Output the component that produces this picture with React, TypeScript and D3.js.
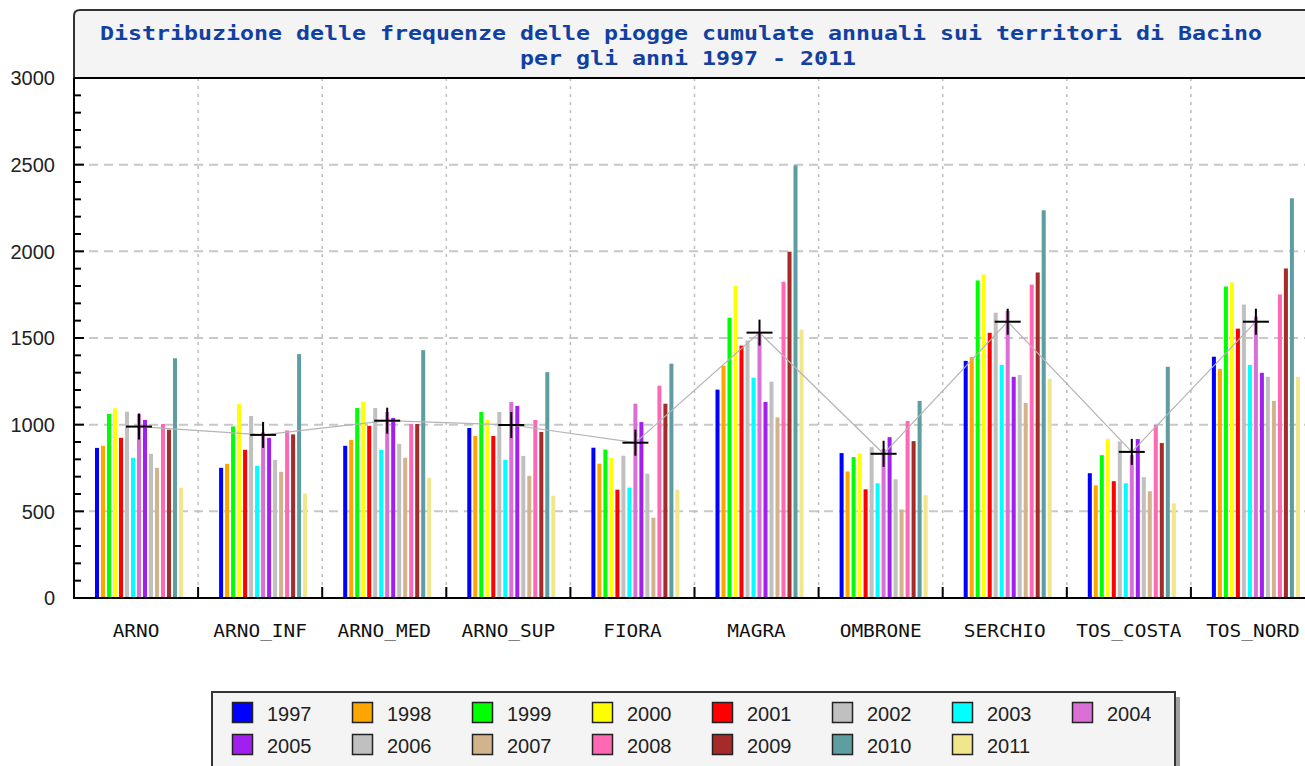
import React, { useRef, useEffect } from 'react';
import * as d3 from 'd3';

const categories = ['ARNO', 'ARNO_INF', 'ARNO_MED', 'ARNO_SUP', 'FIORA', 'MAGRA', 'OMBRONE', 'SERCHIO', 'TOS_COSTA', 'TOS_NORD'];
const years = ['1997', '1998', '1999', '2000', '2001', '2002', '2003', '2004', '2005', '2006', '2007', '2008', '2009', '2010', '2011'];
const yearColors = ['#0000ff', '#ffa500', '#00ff00', '#ffff00', '#ff0000', '#c0c0c0', '#00ffff', '#da70d6', '#a020f0', '#c0c0c0', '#d2b48c', '#ff69b4', '#a52a2a', '#5f9ea0', '#f0e68c'];

// one row per year, one value per category (mm)
const v1997 = [866, 751, 878, 981, 867, 1202, 836, 1368, 720, 1392];
const v1998 = [878, 774, 912, 935, 775, 1340, 730, 1390, 650, 1322];
const v1999 = [1062, 990, 1096, 1073, 856, 1617, 813, 1832, 824, 1797];
const v2000 = [1094, 1119, 1131, 1027, 808, 1802, 834, 1866, 917, 1820];
const v2001 = [924, 855, 993, 935, 625, 1456, 627, 1530, 674, 1554];
const v2002 = [1075, 1050, 1096, 1073, 821, 1486, 870, 1646, 903, 1693];
const v2003 = [809, 763, 855, 797, 637, 1271, 662, 1345, 662, 1345];
const v2004 = [1062, 955, 1073, 1131, 1121, 1525, 860, 1656, 824, 1623];
const v2005 = [1027, 924, 1039, 1108, 1015, 1131, 928, 1276, 917, 1299];
const v2006 = [832, 797, 889, 820, 717, 1248, 685, 1287, 697, 1276];
const v2007 = [751, 728, 809, 705, 463, 1042, 511, 1125, 616, 1137];
const v2008 = [1004, 967, 1004, 1027, 1225, 1825, 1021, 1808, 998, 1751];
const v2009 = [971, 944, 1004, 958, 1121, 1998, 905, 1878, 894, 1901];
const v2010 = [1383, 1407, 1430, 1303, 1352, 2496, 1137, 2237, 1334, 2306];
const v2011 = [636, 602, 694, 590, 625, 1548, 593, 1264, 546, 1276];
const seriesValues = [v1997, v1998, v1999, v2000, v2001, v2002, v2003, v2004, v2005, v2006, v2007, v2008, v2009, v2010, v2011];

// mean markers
const means = [989, 941, 1023, 998, 896, 1531, 832, 1594, 843, 1594];

const yTicks = [0, 500, 1000, 1500, 2000, 2500, 3000];
const titleLines = ['Distribuzione delle frequenze delle piogge cumulate annuali sui territori di Bacino', 'per gli anni 1997 - 2011'];

const App = () => {
  const ref = useRef(null);

  useEffect(() => {
    if (!ref.current) return;
    d3.select(ref.current).select('svg').remove();

    const W = 1305, H = 766;
    const left = 74, top = 78, bottom = 598;
    const bandW = 124.1;

    const svg = d3.select(ref.current)
      .append('svg')
      .attr('width', W)
      .attr('height', H)
      .style('display', 'block');

    const x = d3.scaleBand()
      .domain(categories)
      .range([left, left + bandW * categories.length]);

    const xi = d3.scaleBand()
      .domain(years)
      .range([20, 110])
      .paddingInner(0.33)
      .paddingOuter(0.165);

    const y = d3.scaleLinear().domain([0, 3000]).range([bottom, top]);

    const right = left + bandW * categories.length;

    // title box
    svg.append('path')
      .attr('d', `M${left},${top} L${left},16 Q${left},10 ${left + 6},10 L${right + 10},10 L${right + 10},${top} Z`)
      .attr('fill', '#f4f4f4')
      .attr('stroke', '#333')
      .attr('stroke-width', 2);

    const title = svg.append('g');
    title.append('text')
      .attr('x', 100).attr('y', 40)
      .attr('textLength', 1162)
      .attr('lengthAdjust', 'spacingAndGlyphs')
      .attr('font-family', 'DejaVu Sans Mono')
      .attr('font-weight', 'bold')
      .attr('font-size', 19)
      .attr('fill', '#1240a0')
      .text(titleLines[0]);
    title.append('text')
      .attr('x', 520).attr('y', 65)
      .attr('textLength', 336)
      .attr('lengthAdjust', 'spacingAndGlyphs')
      .attr('font-family', 'DejaVu Sans Mono')
      .attr('font-weight', 'bold')
      .attr('font-size', 19)
      .attr('fill', '#1240a0')
      .text(titleLines[1]);

    // grid
    svg.append('g')
      .selectAll('line')
      .data(yTicks.filter(t => t > 0 && t < 3000))
      .join('line')
      .attr('x1', left).attr('x2', right)
      .attr('y1', d => y(d)).attr('y2', d => y(d))
      .attr('stroke', '#c8c8c8')
      .attr('stroke-width', 2)
      .attr('stroke-dasharray', '9,6');

    svg.append('g')
      .selectAll('line')
      .data(categories.slice(1))
      .join('line')
      .attr('x1', d => x(d)).attr('x2', d => x(d))
      .attr('y1', top).attr('y2', bottom)
      .attr('stroke', '#bdbdbd')
      .attr('stroke-width', 1.5)
      .attr('stroke-dasharray', '3,5');

    // bars
    const groups = svg.append('g')
      .selectAll('g')
      .data(categories)
      .join('g')
      .attr('transform', d => `translate(${x(d)},0)`);

    groups.selectAll('rect')
      .data((d, ci) => years.map((yr, yi) => ({ yr, yi, v: seriesValues[yi][ci] })))
      .join('rect')
      .attr('x', d => xi(d.yr))
      .attr('width', xi.bandwidth())
      .attr('y', d => y(d.v))
      .attr('height', d => y(0) - y(d.v))
      .attr('fill', d => yearColors[d.yi]);

    // mean line + crosses
    const cx = c => x(c) + xi(years[7]) + xi.bandwidth() / 2;
    const line = d3.line()
      .x((d, i) => cx(categories[i]))
      .y(d => y(d));

    svg.append('path')
      .datum(means)
      .attr('fill', 'none')
      .attr('stroke', '#b4b4b4')
      .attr('stroke-width', 1.2)
      .attr('d', line);

    const crosses = svg.append('g')
      .selectAll('g')
      .data(means)
      .join('g')
      .attr('transform', (d, i) => `translate(${cx(categories[i])},${y(d)})`);
    crosses.append('line').attr('x1', -13).attr('x2', 13).attr('stroke', '#000').attr('stroke-width', 2);
    crosses.append('line').attr('y1', -13).attr('y2', 13).attr('stroke', '#000').attr('stroke-width', 2);

    // y axis
    const yAxis = svg.append('g');
    yAxis.append('line')
      .attr('x1', left).attr('x2', left)
      .attr('y1', top).attr('y2', bottom + 1)
      .attr('stroke', '#000').attr('stroke-width', 2);
    yAxis.selectAll('.minor')
      .data(d3.range(0, 3001, 100))
      .join('line')
      .attr('x1', left).attr('x2', d => left + (d % 500 === 0 ? 10 : 7))
      .attr('y1', d => y(d)).attr('y2', d => y(d))
      .attr('stroke', '#000').attr('stroke-width', 2);
    yAxis.selectAll('text')
      .data(yTicks)
      .join('text')
      .attr('x', 55)
      .attr('y', d => y(d))
      .attr('dy', '0.36em')
      .attr('text-anchor', 'end')
      .attr('font-family', 'Liberation Sans')
      .attr('font-size', 20)
      .attr('fill', '#222')
      .text(d => d);

    // title bottom line
    svg.append('line')
      .attr('x1', left).attr('x2', right + 10)
      .attr('y1', top).attr('y2', top)
      .attr('stroke', '#000').attr('stroke-width', 2);

    // x axis
    const xAxis = svg.append('g');
    xAxis.append('line')
      .attr('x1', left - 1).attr('x2', right)
      .attr('y1', bottom).attr('y2', bottom)
      .attr('stroke', '#000').attr('stroke-width', 2);
    xAxis.selectAll('.tick')
      .data(categories.slice(1))
      .join('line')
      .attr('x1', d => x(d)).attr('x2', d => x(d))
      .attr('y1', bottom).attr('y2', bottom - 11)
      .attr('stroke', '#000').attr('stroke-width', 2);
    xAxis.selectAll('text')
      .data(categories)
      .join('text')
      .attr('x', d => x(d) + x.bandwidth() / 2)
      .attr('y', 637)
      .attr('text-anchor', 'middle')
      .attr('textLength', d => d.length * 11.7)
      .attr('lengthAdjust', 'spacingAndGlyphs')
      .attr('font-family', 'DejaVu Sans Mono')
      .attr('font-size', 18)
      .attr('fill', '#111')
      .text(d => d);

    // legend
    const lg = svg.append('g');
    lg.append('rect')
      .attr('x', 217).attr('y', 697)
      .attr('width', 963).attr('height', 90)
      .attr('fill', '#a0a0a0');
    lg.append('rect')
      .attr('x', 212).attr('y', 692)
      .attr('width', 963).attr('height', 90)
      .attr('fill', '#f4f4f4')
      .attr('stroke', '#333')
      .attr('stroke-width', 2);

    const items = lg.selectAll('g.item')
      .data(years)
      .join('g')
      .attr('transform', (d, i) => `translate(${232 + (i % 8) * 120},${702 + Math.floor(i / 8) * 32})`);
    items.append('rect')
      .attr('x', 0.5).attr('y', 0.5)
      .attr('width', 20).attr('height', 20)
      .attr('fill', (d, i) => yearColors[i])
      .attr('stroke', '#222')
      .attr('stroke-width', 1.5);
    items.append('text')
      .attr('x', 35).attr('y', 19)
      .attr('font-family', 'Liberation Sans')
      .attr('font-size', 20)
      .attr('fill', '#222')
      .text(d => d);
  }, []);

  return (
    <div
      ref={ref}
      style={{ position: 'fixed', left: 0, top: 0, width: 1305, height: 766, overflow: 'hidden', background: '#fff' }}
    ></div>
  );
};

export default App;
